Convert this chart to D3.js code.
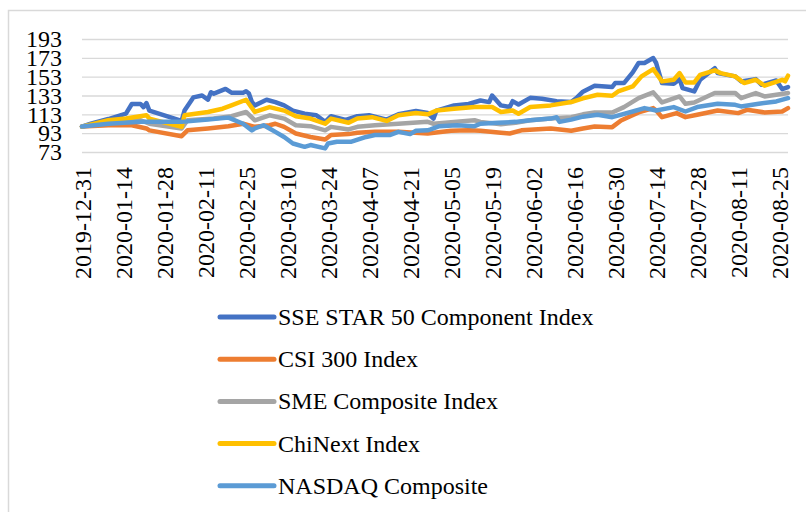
<!DOCTYPE html>
<head>
  <meta charset="utf-8">
  <script src="https://cdn.jsdelivr.net/npm/d3@7"></script>
  <style>
    body { margin: 0; background: #fff; }
    text { font-family: "Liberation Serif", "Times New Roman", serif; fill: #000; }
  </style>
</head>
<body>
<div id="container"></div>
<script>

  // data (index, 2019-12-31 = 100)
  let star50 = [
    ["2019-12-31", 100], ["2020-01-03", 103], ["2020-01-09", 108], ["2020-01-15", 113.7],
    ["2020-01-17", 124], ["2020-01-20", 124], ["2020-01-21", 120.7], ["2020-01-22", 125],
    ["2020-01-23", 117], ["2020-02-03", 106], ["2020-02-04", 117], ["2020-02-07", 131],
    ["2020-02-10", 133], ["2020-02-12", 128.5], ["2020-02-13", 136.5], ["2020-02-14", 135],
    ["2020-02-18", 140], ["2020-02-20", 136], ["2020-02-24", 136], ["2020-02-25", 137.5],
    ["2020-02-26", 135], ["2020-02-27", 126], ["2020-02-28", 122.5], ["2020-03-03", 128.5],
    ["2020-03-06", 126], ["2020-03-09", 122.5], ["2020-03-12", 117], ["2020-03-16", 113.7],
    ["2020-03-20", 112], ["2020-03-23", 105], ["2020-03-25", 111], ["2020-03-30", 107],
    ["2020-04-03", 111], ["2020-04-07", 112], ["2020-04-13", 107.4], ["2020-04-17", 113],
    ["2020-04-23", 116.5], ["2020-04-27", 114.4], ["2020-04-29", 108.5], ["2020-04-30", 117],
    ["2020-05-06", 122.5], ["2020-05-11", 124], ["2020-05-15", 127.7], ["2020-05-18", 126],
    ["2020-05-19", 133], ["2020-05-22", 122.5], ["2020-05-25", 120.7], ["2020-05-26", 127],
    ["2020-05-28", 123.5], ["2020-06-01", 130.5], ["2020-06-05", 129.5], ["2020-06-10", 127],
    ["2020-06-15", 126], ["2020-06-17", 131], ["2020-06-19", 137], ["2020-06-23", 143.4],
    ["2020-06-29", 142], ["2020-06-30", 146.2], ["2020-07-03", 146.2], ["2020-07-06", 157.5],
    ["2020-07-08", 167.5], ["2020-07-10", 167.5], ["2020-07-13", 172.8], ["2020-07-14", 167.5],
    ["2020-07-16", 146.2], ["2020-07-20", 145.5], ["2020-07-22", 150.4], ["2020-07-23", 140.9],
    ["2020-07-27", 137.3], ["2020-07-29", 149.7], ["2020-08-03", 162], ["2020-08-04", 156.8],
    ["2020-08-10", 153.3], ["2020-08-12", 148], ["2020-08-17", 150.4], ["2020-08-19", 144.4],
    ["2020-08-24", 149], ["2020-08-26", 139.8], ["2020-08-28", 142]
  ];

  let csi300 = [
    ["2019-12-31", 100], ["2020-01-09", 101.4], ["2020-01-17", 101.4], ["2020-01-22", 98],
    ["2020-01-23", 96], ["2020-02-03", 89.8], ["2020-02-05", 96], ["2020-02-12", 98],
    ["2020-02-19", 100.4], ["2020-02-24", 103], ["2020-02-28", 99.7], ["2020-03-04", 101.4],
    ["2020-03-06", 103], ["2020-03-09", 99.7], ["2020-03-13", 92.6], ["2020-03-18", 89],
    ["2020-03-23", 86.3], ["2020-03-25", 91], ["2020-03-31", 92], ["2020-04-03", 93.4],
    ["2020-04-09", 94.4], ["2020-04-17", 94.4], ["2020-04-27", 92.6], ["2020-05-05", 95.5],
    ["2020-05-11", 96], ["2020-05-15", 95.5], ["2020-05-22", 93.4], ["2020-05-25", 92.6],
    ["2020-05-29", 96], ["2020-06-08", 98], ["2020-06-15", 95.5], ["2020-06-19", 98],
    ["2020-06-23", 100], ["2020-06-29", 99.4], ["2020-07-02", 106.5], ["2020-07-08", 115],
    ["2020-07-13", 119.6], ["2020-07-14", 117], ["2020-07-16", 110], ["2020-07-21", 114.3],
    ["2020-07-24", 110], ["2020-07-28", 112.5], ["2020-08-04", 117], ["2020-08-11", 114.3],
    ["2020-08-14", 117.8], ["2020-08-20", 115], ["2020-08-26", 116], ["2020-08-28", 119.6]
  ];

  let smeComposite = [
    ["2019-12-31", 100], ["2020-01-09", 105], ["2020-01-20", 106.7], ["2020-01-23", 103],
    ["2020-02-03", 98], ["2020-02-05", 106.7], ["2020-02-14", 108.5], ["2020-02-20", 111],
    ["2020-02-25", 115.5], ["2020-02-28", 106.7], ["2020-03-04", 112], ["2020-03-09", 108.5],
    ["2020-03-13", 101.4], ["2020-03-18", 100.4], ["2020-03-23", 96], ["2020-03-25", 99.7],
    ["2020-03-31", 97], ["2020-04-03", 99.7], ["2020-04-09", 101.4], ["2020-04-17", 103],
    ["2020-04-27", 105], ["2020-04-29", 103], ["2020-05-06", 105], ["2020-05-13", 106.7],
    ["2020-05-15", 105], ["2020-05-22", 102.5], ["2020-05-27", 104], ["2020-06-01", 106.7],
    ["2020-06-08", 108.5], ["2020-06-15", 110], ["2020-06-19", 113], ["2020-06-23", 115],
    ["2020-06-29", 115], ["2020-07-03", 120.7], ["2020-07-08", 130.2], ["2020-07-13", 136.3],
    ["2020-07-16", 125.6], ["2020-07-22", 132], ["2020-07-24", 124.2], ["2020-07-27", 125.6],
    ["2020-08-03", 135.6], ["2020-08-10", 135.6], ["2020-08-12", 130.2], ["2020-08-17", 135.6],
    ["2020-08-20", 132], ["2020-08-24", 133.8], ["2020-08-28", 135.6]
  ];

  let chinext = [
    ["2019-12-31", 100], ["2020-01-09", 106.7], ["2020-01-15", 108.5], ["2020-01-22", 112],
    ["2020-01-23", 108.5], ["2020-02-03", 99.7], ["2020-02-04", 112], ["2020-02-12", 115.5],
    ["2020-02-17", 119], ["2020-02-20", 122.5], ["2020-02-25", 128.5], ["2020-02-28", 115.5],
    ["2020-03-04", 120.7], ["2020-03-09", 117], ["2020-03-13", 111], ["2020-03-18", 108.5],
    ["2020-03-23", 103], ["2020-03-25", 108.5], ["2020-03-31", 104], ["2020-04-03", 108.5],
    ["2020-04-08", 110], ["2020-04-13", 106], ["2020-04-17", 112], ["2020-04-23", 114.4],
    ["2020-04-27", 113], ["2020-04-30", 117], ["2020-05-06", 119], ["2020-05-13", 120.7],
    ["2020-05-19", 120.7], ["2020-05-22", 115.5], ["2020-05-26", 117], ["2020-05-28", 113.7],
    ["2020-06-01", 120.7], ["2020-06-08", 122.5], ["2020-06-15", 126], ["2020-06-19", 130],
    ["2020-06-24", 133.8], ["2020-06-29", 132.7], ["2020-07-01", 137.3], ["2020-07-06", 142.6],
    ["2020-07-09", 153.3], ["2020-07-13", 161], ["2020-07-16", 148], ["2020-07-20", 149.7],
    ["2020-07-22", 156.8], ["2020-07-24", 146.9], ["2020-07-27", 146.9], ["2020-07-29", 155],
    ["2020-08-03", 159.7], ["2020-08-05", 156.8], ["2020-08-10", 153.3], ["2020-08-13", 146.2],
    ["2020-08-17", 149.7], ["2020-08-20", 143.4], ["2020-08-26", 149.7], ["2020-08-27", 148],
    ["2020-08-28", 154]
  ];

  let nasdaq = [
    ["2019-12-31", 100], ["2020-01-09", 103], ["2020-01-20", 105], ["2020-02-03", 105],
    ["2020-02-12", 107.4], ["2020-02-19", 109.5], ["2020-02-24", 103], ["2020-02-27", 96],
    ["2020-02-28", 98], ["2020-03-02", 101.4], ["2020-03-04", 98], ["2020-03-06", 94.4],
    ["2020-03-09", 89], ["2020-03-12", 82], ["2020-03-16", 78.5], ["2020-03-18", 80.4],
    ["2020-03-23", 76.8], ["2020-03-24", 82], ["2020-03-27", 83.9], ["2020-04-01", 83.9],
    ["2020-04-06", 89], ["2020-04-09", 91], ["2020-04-14", 91], ["2020-04-17", 94.4],
    ["2020-04-21", 92], ["2020-04-23", 95.5], ["2020-04-27", 96], ["2020-04-28", 97],
    ["2020-05-01", 100.4], ["2020-05-07", 101.4], ["2020-05-13", 100.4], ["2020-05-15", 103],
    ["2020-05-21", 104], ["2020-05-27", 105], ["2020-06-01", 106.7], ["2020-06-08", 108.5],
    ["2020-06-10", 110], ["2020-06-11", 105], ["2020-06-15", 107.4], ["2020-06-19", 110.5],
    ["2020-06-24", 112.5], ["2020-06-29", 110], ["2020-07-06", 116], ["2020-07-10", 119.6],
    ["2020-07-14", 117], ["2020-07-20", 120.7], ["2020-07-24", 116], ["2020-07-28", 120.7],
    ["2020-08-04", 124.2], ["2020-08-10", 123.1], ["2020-08-12", 121.4], ["2020-08-18", 124.2],
    ["2020-08-24", 126.7], ["2020-08-28", 130.2]
  ];

  let seriesNames = ["SSE STAR 50 Component Index", "CSI 300 Index", "SME Composite Index", "ChiNext Index", "NASDAQ Composite"];
  let seriesColors = ["#4472C4", "#ED7D31", "#A5A5A5", "#FFC000", "#5B9BD5"];

  let xTickLabels = ["2019-12-31", "2020-01-14", "2020-01-28", "2020-02-11", "2020-02-25", "2020-03-10",
    "2020-03-24", "2020-04-07", "2020-04-21", "2020-05-05", "2020-05-19", "2020-06-02",
    "2020-06-16", "2020-06-30", "2020-07-14", "2020-07-28", "2020-08-11", "2020-08-25"];
  let yTicks = [73, 93, 113, 133, 153, 173, 193];

  let svg_width = 806;
  let svg_height = 512;

  let plot = { left: 82, right: 788, top: 39, bottom: 152 };

  let parseDate = d3.timeParse("%Y-%m-%d");
  let allSeries = [star50, csi300, smeComposite, chinext, nasdaq];

  let svg = d3.select("#container").append("svg")
          .attr("width", svg_width)
          .attr("height", svg_height);

  // chart frame, cut off at right and bottom like the source
  svg.append("rect")
          .attr("x", 8.5)
          .attr("y", 10.5)
          .attr("width", 900)
          .attr("height", 600)
          .attr("fill", "none")
          .attr("stroke", "#d9d9d9")
          .attr("stroke-width", 1.5);

  let xScale = d3.scaleTime()
          .domain([parseDate("2019-12-31"), parseDate("2020-08-28")])
          .range([plot.left, plot.right]);

  let yScale = d3.scaleLinear()
          .domain([73, 193])
          .range([plot.bottom, plot.top]);

  // gridlines
  let grid = svg.append("g")
          .attr("transform", "translate(" + plot.left + ",0)")
          .call(d3.axisLeft(yScale)
                  .tickValues(yTicks)
                  .tickSize(-(plot.right - plot.left))
                  .tickFormat(""));
  grid.select(".domain").remove();
  grid.selectAll("line").attr("stroke", "#d9d9d9").attr("stroke-width", 1.3);

  // y labels
  let yAxis = svg.append("g")
          .attr("transform", "translate(65,0)")
          .call(d3.axisLeft(yScale).tickValues(yTicks).tickSize(0).tickPadding(3));
  yAxis.select(".domain").remove();
  yAxis.selectAll("text")
          .style("font-family", "'Liberation Serif', 'Times New Roman', serif")
          .style("font-size", "24px")
          .attr("fill", "#000");

  // x labels, rotated
  let xAxis = svg.append("g")
          .attr("transform", "translate(0," + plot.bottom + ")")
          .call(d3.axisBottom(xScale)
                  .tickValues(xTickLabels.map(parseDate))
                  .tickSize(0)
                  .tickFormat(d3.timeFormat("%Y-%m-%d")));
  xAxis.select(".domain").remove();
  xAxis.selectAll("text")
          .attr("transform", "rotate(-90)")
          .attr("text-anchor", "end")
          .attr("x", -15)
          .attr("y", 0)
          .attr("dy", "0.35em")
          .style("font-family", "'Liberation Serif', 'Times New Roman', serif")
          .style("font-size", "24px")
          .attr("fill", "#000");

  let line = d3.line()
          .x(function (d) { return xScale(parseDate(d[0])); })
          .y(function (d) { return yScale(d[1]); });

  for (let i = 0; i < allSeries.length; i = i + 1) {
    svg.append("path")
            .datum(allSeries[i])
            .attr("fill", "none")
            .attr("stroke", seriesColors[i])
            .attr("stroke-width", 4.5)
            .attr("stroke-linejoin", "round")
            .attr("stroke-linecap", "round")
            .attr("d", line);
  }

  // legend
  for (let i = 0; i < seriesNames.length; i = i + 1) {
    let ly = 317 + i * 42.2;
    svg.append("line")
            .attr("x1", 220)
            .attr("x2", 274)
            .attr("y1", ly)
            .attr("y2", ly)
            .attr("stroke", seriesColors[i])
            .attr("stroke-width", 5)
            .attr("stroke-linecap", "round");
    svg.append("text")
            .attr("x", 278)
            .attr("y", ly)
            .attr("dy", "0.33em")
            .style("font-size", "24px")
            .text(seriesNames[i]);
  }

</script>
</body>
